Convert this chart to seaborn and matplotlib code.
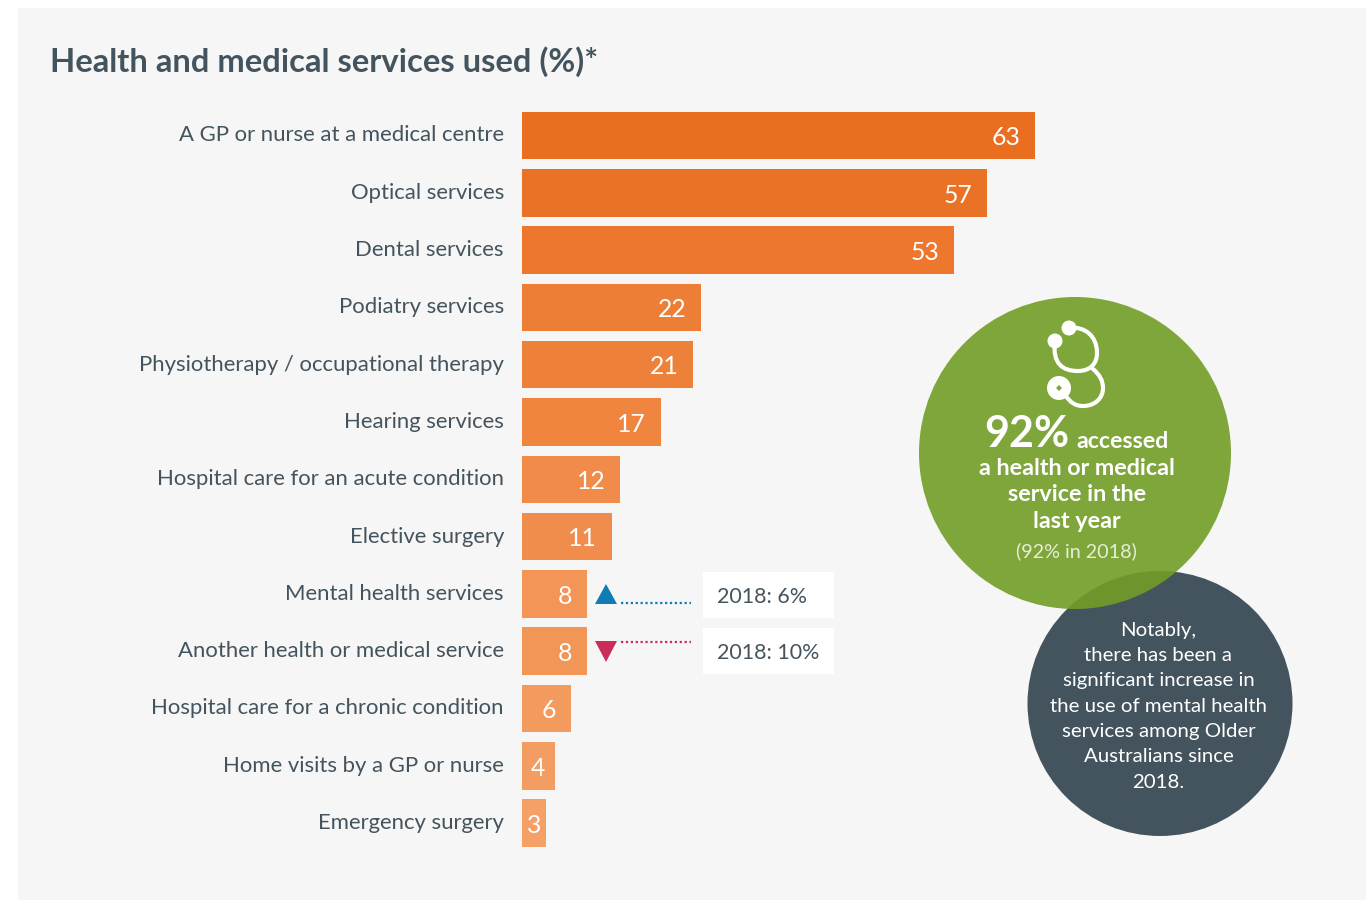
import matplotlib
matplotlib.use("Agg")
import matplotlib.pyplot as plt
from matplotlib.patches import Circle, Polygon, Rectangle, PathPatch
from matplotlib.path import Path
from matplotlib.transforms import ScaledTranslation
import pandas as pd
import seaborn as sns

services = [
    "A GP or nurse at a medical centre", "Optical services", "Dental services",
    "Podiatry services", "Physiotherapy / occupational therapy", "Hearing services",
    "Hospital care for an acute condition", "Elective surgery", "Mental health services",
    "Another health or medical service", "Hospital care for a chronic condition",
    "Home visits by a GP or nurse", "Emergency surgery",
]
shares = [63, 57, 53, 22, 21, 17, 12, 11, 8, 8, 6, 4, 3]
bar_colours = ["#e96e1f", "#ea7226", "#ec772d", "#ed7e36", "#ee813a", "#ef853f", "#f08b4a",
               "#f08d4d", "#f29556", "#f29658", "#f39b5f", "#f39d62", "#f4a066"]
earlier_labels = ["2018: 6%", "2018: 10%"]

W, H = 1366, 900
PX_PER_UNIT = 8.15
ROW_PX, FIRST_ROW_PX, BAR_LEFT_PX = 57.3, 135.5, 522
INK = "#44545e"
BODY_FONT = "Lato"

sns.set_theme(style="white")
plt.rcParams["font.family"] = [BODY_FONT, "DejaVu Sans"]
plt.rcParams["ytick.alignment"] = "center_baseline"

fig = plt.figure(figsize=(W / 100, H / 100), dpi=100, facecolor="white")

# Full-figure layer in pixel units for the panel, callouts and circles
bg = fig.add_axes([0, 0, 1, 1], zorder=0)
bg.set_xlim(0, W)
bg.set_ylim(H, 0)
bg.axis("off")
bg.add_patch(Rectangle((18, 8), W - 18, 892, fc="#f6f6f6", ec="none"))

# Bars on their own value scale
ax = fig.add_axes([BAR_LEFT_PX / W, 0, 1 - BAR_LEFT_PX / W, 1], zorder=1)
ax.patch.set_alpha(0)
frame = pd.DataFrame({"service": services, "share": shares})
sns.barplot(data=frame, y="service", x="share", hue="service", palette=bar_colours,
            order=services, hue_order=services, dodge=False, legend=False,
            width=0.83, saturation=1, linewidth=0, ax=ax)
ax.set_xlim(0, (W - BAR_LEFT_PX) / PX_PER_UNIT)
ax.set_ylim((H - FIRST_ROW_PX) / ROW_PX, -FIRST_ROW_PX / ROW_PX)
ax.set_xlabel("")
ax.set_ylabel("")
ax.xaxis.set_visible(False)
sns.despine(ax=ax, left=True, bottom=True)
ax.tick_params(axis="y", length=0, pad=13)
# Category labels sit slightly above the bar centres
nudge_up = ScaledTranslation(0, 1.5 / 72, fig.dpi_scale_trans)
for lab in ax.get_yticklabels():
    lab.set_fontsize(15.9)
    lab.set_color(INK)
    lab.set_transform(lab.get_transform() + nudge_up)

# Value labels: right-aligned inside long bars, centred in the shortest ones
for i, v in enumerate(shares):
    if v >= 6:
        ax.annotate(str(v), (v, i), xytext=(-10.5, -1.6), textcoords="offset points",
                    ha="right", va="center", color="white", fontsize=17.8)
    else:
        ax.annotate(str(v), (v / 2, i), xytext=(0, -1.6), textcoords="offset points",
                    ha="center", va="center", color="white", fontsize=17.8)

# Title
bg.text(50, 62, "Health and medical services used (%)*", fontsize=23.6, fontweight="bold",
        color=INK, ha="left", va="center")

# Change markers against 2018
bg.add_patch(Polygon([(595, 604), (617, 604), (606, 584)], fc="#0f7cb6", ec="none"))
bg.plot([621, 691], [603, 603], color="#0f7cb6", lw=1.6, ls=(0, (1, 1.2)))
bg.add_patch(Polygon([(595, 641), (617, 641), (606, 662)], fc="#c92d58", ec="none"))
bg.plot([621, 691], [642, 642], color="#c92d58", lw=1.6, ls=(0, (1, 1.2)))
for top, label in zip([572, 628], earlier_labels):
    bg.add_patch(Rectangle((703, top), 131, 46, fc="white", ec="none"))
    bg.text(717, top + 25, label, fontsize=15.4, color=INK, ha="left", va="center")

# Overlapping circles
bg.add_patch(Circle((1160, 703.5), 132.5, fc=INK, ec="none", zorder=2))
bg.add_patch(Circle((1075, 453), 156, fc="#729d26", ec="none", alpha=0.9, zorder=3))

# Stethoscope icon
tube = Path(
    [(1069, 328), (1085, 326), (1097, 336), (1097, 353),
     (1097, 364), (1090, 371), (1078, 371),
     (1063, 371), (1052, 364), (1055, 341)],
    [Path.MOVETO, Path.CURVE4, Path.CURVE4, Path.CURVE4,
     Path.CURVE4, Path.CURVE4, Path.CURVE4,
     Path.CURVE4, Path.CURVE4, Path.CURVE4],
)
lower = Path(
    [(1093, 369), (1100, 375), (1103, 381), (1103, 388),
     (1103, 399), (1094, 406), (1083, 406),
     (1075, 406), (1070, 402), (1066, 396)],
    [Path.MOVETO, Path.CURVE4, Path.CURVE4, Path.CURVE4,
     Path.CURVE4, Path.CURVE4, Path.CURVE4,
     Path.CURVE4, Path.CURVE4, Path.CURVE4],
)
for p in (tube, lower):
    bg.add_patch(PathPatch(p, fc="none", ec="white", lw=3, zorder=4, capstyle="round"))
bg.add_patch(Circle((1055, 341), 7.5, fc="white", ec="none", zorder=4))
bg.add_patch(Circle((1069, 328), 7.5, fc="white", ec="none", zorder=4))
bg.add_patch(Circle((1059, 388), 12, fc="white", ec="none", zorder=4))
bg.add_patch(Polygon([(1059, 385), (1062, 388), (1059, 391), (1056, 388)],
                     fc="#7fa63b", ec="none", zorder=5))

# Green circle text
bg.text(1069, 447, "92%", fontsize=31, fontweight="bold", color="white",
        ha="right", va="baseline", zorder=6)
bg.text(1076, 448, "accessed", fontsize=16.7, fontweight="bold", color="white",
        ha="left", va="baseline", zorder=6)
for y, line in zip([475, 501, 528], ["a health or medical", "service in the", "last year"]):
    bg.text(1077, y, line, fontsize=16.8, fontweight="bold", color="white",
            ha="center", va="baseline", zorder=6)
bg.text(1076, 557, "(92% in 2018)", fontsize=14.2, color="#e6eed8",
        ha="center", va="baseline", zorder=6)

# Dark circle text
note_lines = ["Notably,", "there has been a", "significant increase in",
              "the use of mental health", "services among Older",
              "Australians since", "2018."]
for y, line in zip([636, 661, 686, 712, 737, 762, 788], note_lines):
    bg.text(1158.5, y, line, fontsize=14.7, color="white", ha="center", va="baseline", zorder=6)

fig.savefig("out.png", dpi=100)
